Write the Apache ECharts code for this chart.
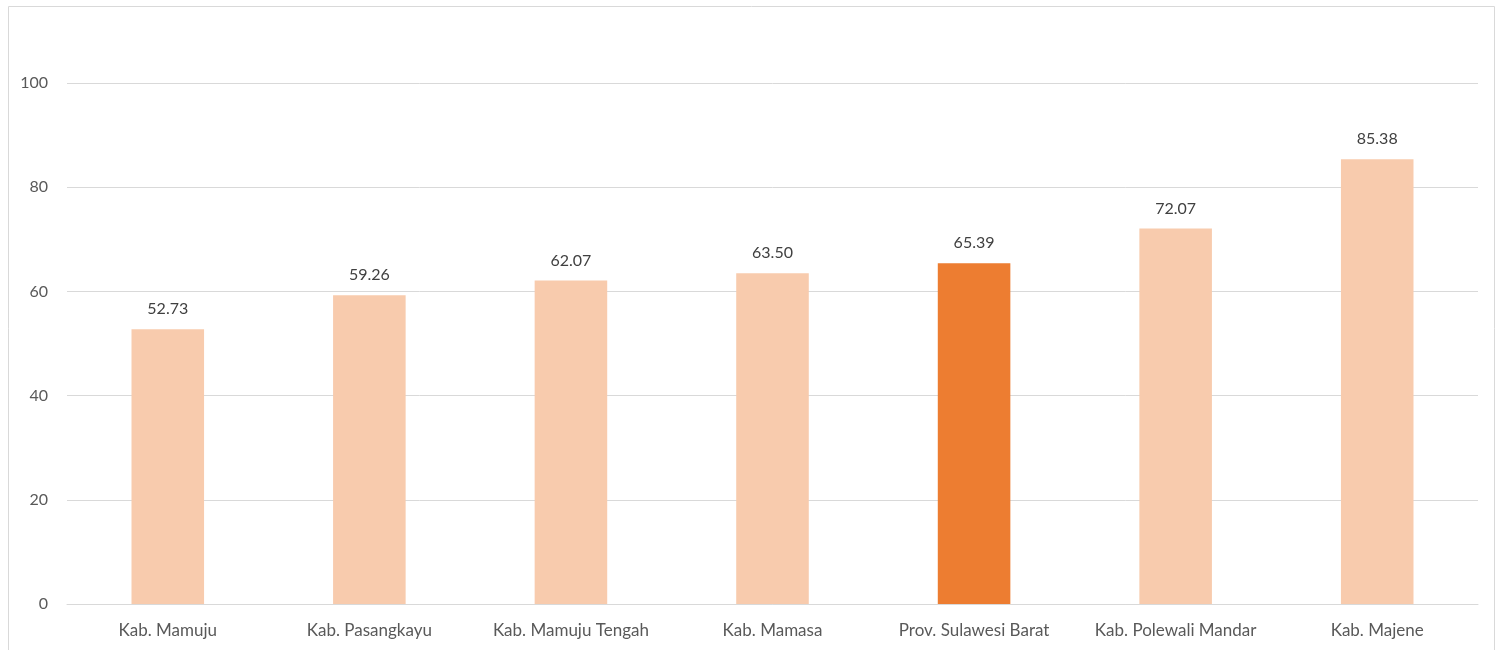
<!DOCTYPE html>
<html><head><meta charset="utf-8">
<script src="https://cdn.jsdelivr.net/npm/echarts@6/dist/echarts.min.js"></script>
<style>html,body{margin:0;padding:0;background:#fff}#c{width:1499px;height:650px}</style>
</head><body><div id="c"></div>
<script>
const categories = ["Kab. Mamuju","Kab. Pasangkayu","Kab. Mamuju Tengah","Kab. Mamasa","Prov. Sulawesi Barat","Kab. Polewali Mandar","Kab. Majene"];
const values = [52.73,59.26,62.07,63.50,65.39,72.07,85.38];
const highlight = "Prov. Sulawesi Barat";
const chart = echarts.init(document.getElementById('c'));
chart.setOption({
  animation:false,
  textStyle:{fontFamily:"Lato"},
  graphic:[{type:'rect',shape:{x:8.5,y:6.5,width:1486,height:700},style:{fill:'none',stroke:'#d9d9d9',lineWidth:1},silent:true}],
  grid:{left:67,right:21,top:83,bottom:46},
  xAxis:{type:'category',data:categories,
    axisLine:{lineStyle:{color:'#d9d9d9',width:1}},axisTick:{show:false},
    axisLabel:{color:'#595959',fontSize:17,margin:18,interval:0,hideOverlap:false}},
  yAxis:{type:'value',min:0,max:100,interval:20,
    axisLine:{show:false},axisTick:{show:false},
    splitLine:{lineStyle:{color:'#d9d9d9',width:1}},
    axisLabel:{color:'#595959',fontSize:16,margin:19}},
  series:[{type:'bar',barWidth:'36%',
    data:values.map((v,i)=>({value:v,itemStyle:{color:categories[i]===highlight?'#ED7D31':'#F8CBAD'}})),
    label:{show:true,position:'top',distance:12,color:'#404040',fontSize:16,formatter:p=>p.value.toFixed(2)}}]
});
</script></body></html>
